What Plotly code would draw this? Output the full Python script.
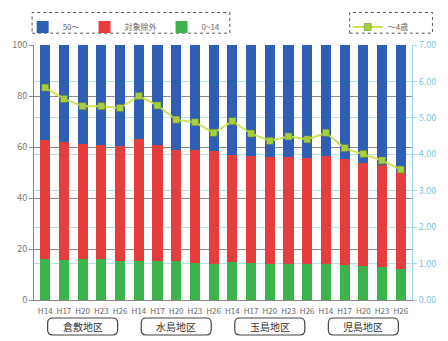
import plotly.graph_objects as go

groups = ["倉敷地区", "水島地区", "玉島地区", "児島地区"]
years = ["H14", "H17", "H20", "H23", "H26"]

green_0_14 = [16.1, 15.8, 16.1, 16.1, 15.4, 15.4, 15.2, 15.1, 14.4, 14.2,
              14.8, 14.4, 14.2, 14.2, 14.2, 14.2, 13.9, 13.5, 13.1, 12.0]
red_top = [62.8, 62.0, 61.1, 60.9, 60.5, 63.1, 60.9, 59.0, 59.0, 58.6,
           56.9, 56.4, 56.0, 56.0, 55.6, 56.4, 55.3, 53.7, 52.8, 50.2]
under4 = [5.83, 5.52, 5.32, 5.32, 5.27, 5.60, 5.34, 4.95, 4.88, 4.59,
          4.91, 4.57, 4.37, 4.49, 4.41, 4.59, 4.17, 4.01, 3.83, 3.58]

cats = [g + y for g in groups for y in years]
ticklabels = [y for g in groups for y in years]
red_excl = [round(r - g, 1) for r, g in zip(red_top, green_0_14)]
blue_50 = [round(100 - r, 1) for r in red_top]

FONT = "Noto Sans CJK JP, Noto Sans, sans-serif"
fig = go.Figure()
fig.add_trace(go.Bar(x=cats, y=green_0_14, name="0~14", marker_color="#3cb44b",
                     marker_line_width=0, legendrank=3))
fig.add_trace(go.Bar(x=cats, y=red_excl, name="対象除外", marker_color="#e53c3c",
                     marker_line_width=0, legendrank=2))
fig.add_trace(go.Bar(x=cats, y=blue_50, name="50～", marker_color="#2f5fb5",
                     marker_line_width=0, legendrank=1))
fig.add_trace(go.Scatter(x=cats, y=under4, name="～4歳", yaxis="y2", mode="lines+markers",
                         line=dict(color="#cfe35a", width=2),
                         marker=dict(symbol="square", size=7, color="#a6cf3c",
                                     line=dict(color="#6a7a30", width=0.5)),
                         legend="legend2"))

def rrect(w, h, r, top):
    x0, x1 = -w / 2, w / 2
    y1, y0 = top, top - h
    return (f"M {x0+r},{y1} L {x1-r},{y1} Q {x1},{y1} {x1},{y1-r} L {x1},{y0+r} "
            f"Q {x1},{y0} {x1-r},{y0} L {x0+r},{y0} Q {x0},{y0} {x0},{y0+r} "
            f"L {x0},{y1-r} Q {x0},{y1} {x0+r},{y1} Z")

shapes = []
annotations = []
for gi, g in enumerate(groups):
    mid = cats[gi * 5 + 2]
    shapes.append(dict(type="path", xref="x", yref="paper", xsizemode="pixel",
                       ysizemode="pixel", xanchor=mid, yanchor=0,
                       path=rrect(70, 17, 5, -18), line=dict(color="#444", width=1.2),
                       fillcolor="white"))
    annotations.append(dict(x=mid, y=0, xref="x", yref="paper", yshift=-26.5,
                            yanchor="middle", xanchor="center",
                            text=g, showarrow=False,
                            font=dict(size=10, color="#333", family=FONT)))

shapes.append(dict(type="rect", xref="paper", yref="paper",
                   x0=-0.005, x1=(233 - 32) / 388, y0=(300 - 29) / 259, y1=(300 - 8) / 259,
                   line=dict(color="#555", width=1, dash="dot")))
shapes.append(dict(type="rect", xref="paper", yref="paper",
                   x0=(356 - 32) / 388, x1=(441 - 32) / 388, y0=(300 - 29) / 259,
                   y1=(300 - 8) / 259, line=dict(color="#555", width=1, dash="dot")))

fig.update_layout(
    width=448, height=341,
    margin=dict(l=32, r=28, t=41, b=41),
    barmode="stack", bargap=0.46,
    plot_bgcolor="white", paper_bgcolor="white",
    font=dict(family=FONT, size=9, color="#666"),
    shapes=shapes, annotations=annotations,
    xaxis=dict(type="category", tickmode="array", tickvals=cats, ticktext=ticklabels,
               showgrid=False, showline=True, linecolor="#888", ticks="outside",
               ticklen=3, tickcolor="rgba(0,0,0,0)",
               tickfont=dict(size=8, color="#666"), range=[-0.6, 19.6]),
    yaxis=dict(range=[0, 100], dtick=20, showline=True, linecolor="#888",
               gridcolor="#8a8a8a", gridwidth=1, ticks="outside", ticklen=4,
               tickcolor="#888", tickfont=dict(size=9, color="#777"), zeroline=False),
    yaxis2=dict(range=[0, 7], dtick=1, tickformat=".2f", overlaying="y", side="right",
                showline=True, linecolor="#9fd3e6", gridcolor="#b6e0ee", showgrid=True,
                ticks="outside", ticklen=4, tickcolor="#9fd3e6",
                tickfont=dict(size=9, color="#7cc4dc"), zeroline=False),
    legend=dict(orientation="h", x=-0.03, y=(300 - 8) / 259, xanchor="left", yanchor="top",
                traceorder="normal", font=dict(size=8, color="#666"),
                bgcolor="rgba(0,0,0,0)", itemwidth=30),
    legend2=dict(orientation="h", x=(354 - 32) / 388, y=(300 - 8) / 259, xanchor="left",
                 yanchor="top", font=dict(size=8, color="#666"),
                 bgcolor="rgba(0,0,0,0)", itemwidth=30),
)

fig.write_html("out.html")
